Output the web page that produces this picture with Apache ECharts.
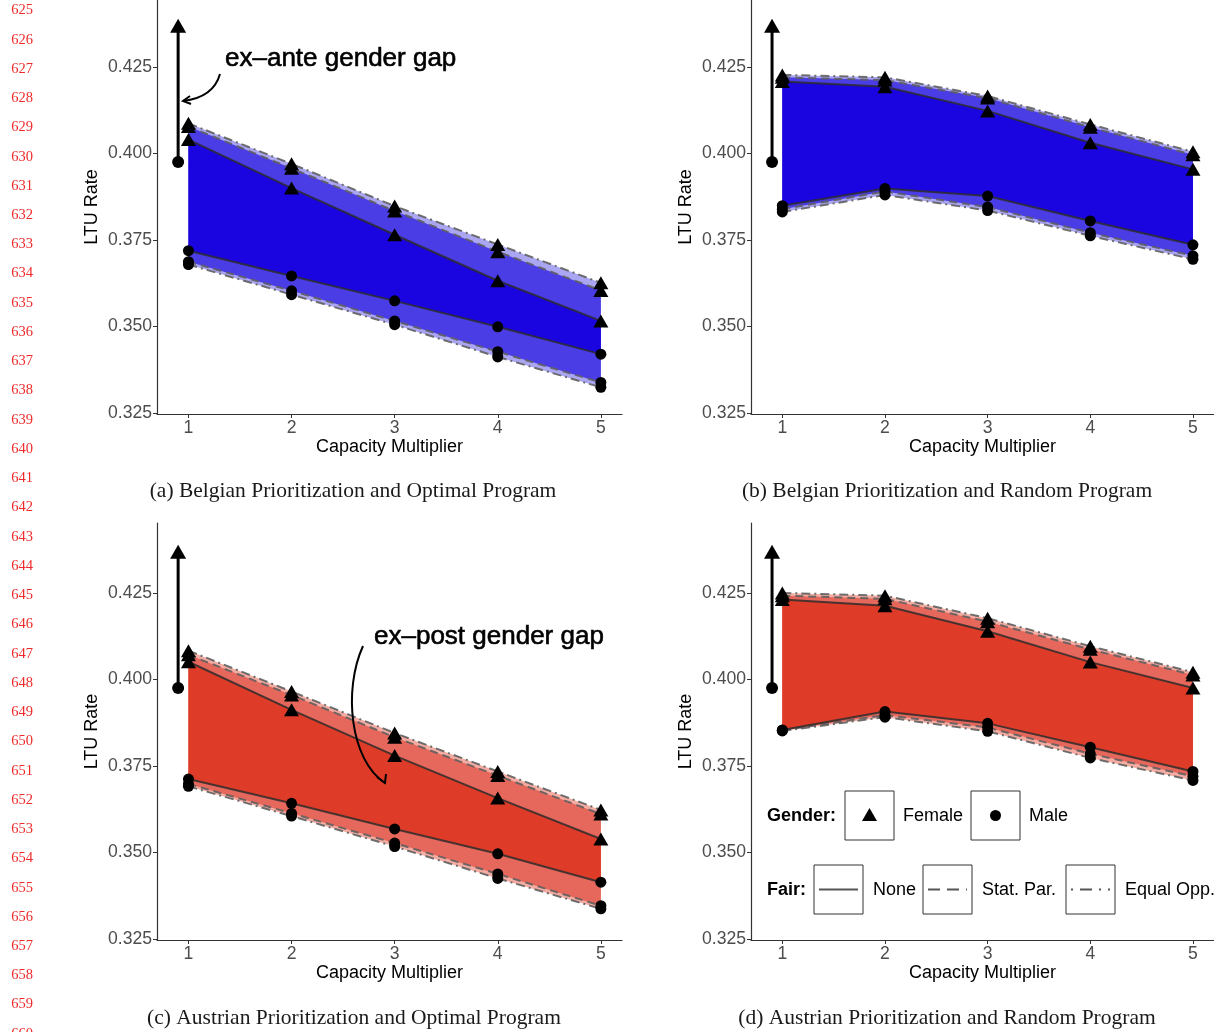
<!DOCTYPE html>
<html><head><meta charset="utf-8">
<script src="https://cdn.jsdelivr.net/npm/echarts@6/dist/echarts.min.js"></script>
<style>html,body{margin:0;padding:0;background:#fff}#c{width:1214px;height:1032px}</style>
</head><body><div id="c"></div>
<script>
// ---------- data ----------
const capacity = [1, 2, 3, 4, 5];
const xTicks = [1, 2, 3, 4, 5];
const yTicks = [0.325, 0.350, 0.375, 0.400, 0.425];

// baseline (ex-ante) LTU rates, drawn at x = 0.9
const baseX = 0.9;
const baseFemale = 0.4369;
const baseMale = 0.3975;

// (a) Belgian prioritization, optimal program
const femNoneA = [0.4040, 0.3900, 0.3765, 0.3632, 0.3516];
const femSPA   = [0.4078, 0.3957, 0.3834, 0.3716, 0.3604];
const femEOA   = [0.4087, 0.3970, 0.3848, 0.3737, 0.3626];
const maleNoneA = [0.3719, 0.3646, 0.3574, 0.3499, 0.3420];
const maleSPA   = [0.3687, 0.3603, 0.3516, 0.3427, 0.3338];
const maleEOA   = [0.3679, 0.3592, 0.3505, 0.3412, 0.3324];

// (b) Belgian prioritization, random program
const femNoneB = [0.4208, 0.4193, 0.4123, 0.4031, 0.3954];
const femSPB   = [0.4220, 0.4212, 0.4160, 0.4076, 0.3996];
const femEOB   = [0.4227, 0.4220, 0.4166, 0.4084, 0.4005];
const maleNoneB = [0.3849, 0.3899, 0.3877, 0.3805, 0.3736];
const maleSPB   = [0.3839, 0.3890, 0.3845, 0.3771, 0.3704];
const maleEOB   = [0.3831, 0.3880, 0.3835, 0.3762, 0.3694];

// (c) Austrian prioritization, optimal program
const femNoneC = [0.4051, 0.3912, 0.3780, 0.3657, 0.3539];
const femSPC   = [0.4071, 0.3955, 0.3833, 0.3722, 0.3611];
const femEOC   = [0.4083, 0.3965, 0.3845, 0.3734, 0.3623];
const maleNoneC = [0.3712, 0.3642, 0.3568, 0.3496, 0.3414];
const maleSPC   = [0.3698, 0.3613, 0.3527, 0.3438, 0.3346];
const maleEOC   = [0.3691, 0.3605, 0.3517, 0.3425, 0.3337];

// (d) Austrian prioritization, random program
const femNoneD = [0.4231, 0.4213, 0.4139, 0.4050, 0.3975];
const femSPD   = [0.4242, 0.4233, 0.4167, 0.4087, 0.4013];
const femEOD   = [0.4250, 0.4242, 0.4177, 0.4096, 0.4021];
const maleNoneD = [0.3854, 0.3907, 0.3873, 0.3804, 0.3734];
const maleSPD   = [0.3853, 0.3897, 0.3861, 0.3785, 0.3720];
const maleEOD   = [0.3851, 0.3891, 0.3850, 0.3773, 0.3708];

const captions = [
  '(a) Belgian Prioritization and Optimal Program',
  '(b) Belgian Prioritization and Random Program',
  '(c) Austrian Prioritization and Optimal Program',
  '(d) Austrian Prioritization and Random Program'
];

// ---------- styling / layout ----------
const SANS = 'Liberation Sans, Arial, sans-serif';
const SERIF = 'Liberation Serif, DejaVu Serif, serif';
const blue = {light: '#aba6f2', mid: '#4b3de5', dark: '#1a05e0'};
const red  = {light: '#f4aca3', mid: '#e6675b', dark: '#de3c28'};

const panels = [
  {grid: {left: 157, top: 0, width: 465, height: 414}, ymax: 0.44435, f: [femNoneA, femSPA, femEOA], m: [maleNoneA, maleSPA, maleEOA], pal: blue},
  {grid: {left: 751, top: 0, width: 464, height: 414}, ymax: 0.44435, f: [femNoneB, femSPB, femEOB], m: [maleNoneB, maleSPB, maleEOB], pal: blue},
  {grid: {left: 157, top: 523, width: 465, height: 417}, ymax: 0.4452, f: [femNoneC, femSPC, femEOC], m: [maleNoneC, maleSPC, maleEOC], pal: red},
  {grid: {left: 751, top: 523, width: 464, height: 417}, ymax: 0.4452, f: [femNoneD, femSPD, femEOD], m: [maleNoneD, maleSPD, maleEOD], pal: red}
];
const YMIN = 0.3247, XMIN = 0.695, XMAX = 5.205;

const lineStyles = [
  {color: 'rgba(45,45,45,0.85)', width: 2, type: 'solid'},
  {color: 'rgba(95,95,95,0.9)', width: 2, type: [8, 5]},
  {color: 'rgba(95,95,95,0.9)', width: 2, type: [9, 4, 2, 4]}
];

function pts(vals) { return capacity.map((x, i) => [x, vals[i]]); }

function band(idx, upper, lower, color, z) {
  return {
    type: 'custom', xAxisIndex: idx, yAxisIndex: idx, z: z, silent: true, animation: false,
    data: [[capacity[0], upper[0]]],
    renderItem: function (params, api) {
      const p = [];
      capacity.forEach((x, i) => p.push(api.coord([x, upper[i]])));
      for (let i = capacity.length - 1; i >= 0; i--) p.push(api.coord([capacity[i], lower[i]]));
      return {type: 'polygon', shape: {points: p}, style: {fill: color}};
    }
  };
}
function line(idx, vals, symbol, size, ls, z) {
  return {
    type: 'line', xAxisIndex: idx, yAxisIndex: idx, data: pts(vals), symbol: symbol, symbolSize: size,
    showSymbol: true, showAllSymbol: true, itemStyle: {color: '#000'}, lineStyle: ls, z: z,
    animation: false, silent: true
  };
}

const grids = [], xAxes = [], yAxes = [], series = [];
panels.forEach((p, idx) => {
  grids.push(Object.assign({containLabel: false}, p.grid));
  xAxes.push({
    type: 'value', gridIndex: idx, min: XMIN, max: XMAX,
    axisLine: {show: true, onZero: false, lineStyle: {color: '#333', width: 1.2}},
    axisTick: {show: true, length: 4, customValues: xTicks, lineStyle: {color: '#333'}},
    axisLabel: {customValues: xTicks, color: '#4d4d4d', fontSize: 17.6, margin: 5, fontFamily: SANS},
    splitLine: {show: false},
    name: 'Capacity Multiplier', nameLocation: 'middle', nameGap: 22,
    nameTextStyle: {color: '#000', fontSize: 18, fontFamily: SANS}
  });
  yAxes.push({
    type: 'value', gridIndex: idx, min: YMIN, max: p.ymax,
    axisLine: {show: true, onZero: false, lineStyle: {color: '#333', width: 1.2}},
    axisTick: {show: true, length: 4, customValues: yTicks, lineStyle: {color: '#333'}},
    axisLabel: {customValues: yTicks, color: '#4d4d4d', fontSize: 17.6, margin: 5, fontFamily: SANS,
      padding: [3, 0, 0, 0], formatter: v => v.toFixed(3)},
    splitLine: {show: false},
    name: 'LTU Rate', nameLocation: 'middle', nameGap: 56,
    nameTextStyle: {color: '#000', fontSize: 18, fontFamily: SANS}
  });
  // ribbons, outermost first
  series.push(band(idx, p.f[2], p.m[2], p.pal.light, 1));
  series.push(band(idx, p.f[1], p.m[1], p.pal.mid, 1));
  series.push(band(idx, p.f[0], p.m[0], p.pal.dark, 1));
  // lines + markers
  for (let k = 2; k >= 0; k--) {
    series.push(line(idx, p.m[k], 'circle', 11, lineStyles[k], 3));
    series.push(line(idx, p.f[k], 'triangle', [15, 13], lineStyles[k], 3));
  }
  // ex-ante gap
  series.push({
    type: 'line', xAxisIndex: idx, yAxisIndex: idx, z: 4, animation: false, silent: true,
    lineStyle: {color: '#000', width: 3}, itemStyle: {color: '#000'},
    data: [
      {value: [baseX, baseMale], symbol: 'circle', symbolSize: 12},
      {value: [baseX, baseFemale], symbol: 'triangle', symbolSize: [16, 14]}
    ]
  });
});

// ---------- graphic elements: captions, annotations, legend, line numbers ----------
const graphic = [];
const capPos = [[353, 491], [947, 491], [354, 1018], [947, 1018]];
captions.forEach((t, i) => graphic.push({
  type: 'text', x: capPos[i][0], y: capPos[i][1], z: 10,
  style: {text: t, font: '21.5px ' + SERIF, fill: '#1a1a1a', align: 'center', verticalAlign: 'middle'}
}));
for (let n = 625; n <= 660; n++) {
  graphic.push({type: 'text', x: 22, y: 10.5 + (n - 625) * 29.24, z: 10,
    style: {text: String(n), font: '14.5px ' + SERIF, fill: '#ee2a2a', align: 'center', verticalAlign: 'middle'}});
}
// annotations
graphic.push({type: 'text', x: 225, y: 59, z: 10,
  style: {text: 'ex\u2013ante gender gap', font: '26px ' + SANS, fill: '#000', stroke: '#000', lineWidth: 0.6, verticalAlign: 'middle'}});
graphic.push({type: 'bezierCurve', z: 10,
  shape: {x1: 220, y1: 74, cpx1: 215, cpy1: 92, cpx2: 200, cpy2: 99, x2: 183, y2: 101},
  style: {stroke: '#000', lineWidth: 2, fill: null}});
graphic.push({type: 'polyline', z: 10, shape: {points: [[190, 96], [183, 101], [191, 104]]},
  style: {stroke: '#000', lineWidth: 2, fill: null}});
graphic.push({type: 'text', x: 374, y: 637, z: 10,
  style: {text: 'ex\u2013post gender gap', font: '26px ' + SANS, fill: '#000', stroke: '#000', lineWidth: 0.6, verticalAlign: 'middle'}});
graphic.push({type: 'bezierCurve', z: 10,
  shape: {x1: 363, y1: 646, cpx1: 343, cpy1: 690, cpx2: 350, cpy2: 760, x2: 385, y2: 783},
  style: {stroke: '#000', lineWidth: 2, fill: null}});
graphic.push({type: 'polyline', z: 10, shape: {points: [[377, 777], [385, 783], [386, 774]]},
  style: {stroke: '#000', lineWidth: 2, fill: null}});
// legend
function box(x, y) {
  return {type: 'rect', z: 10, shape: {x: x, y: y, width: 49, height: 49},
    style: {fill: '#fff', stroke: '#333', lineWidth: 1}};
}
function ltext(t, x, y, bold) {
  return {type: 'text', x: x, y: y, z: 11,
    style: {text: t, font: (bold ? 'bold ' : '') + '18px ' + SANS, fill: '#000', verticalAlign: 'middle'}};
}
graphic.push(ltext('Gender:', 767, 816, true));
graphic.push(box(845, 791));
graphic.push({type: 'polygon', z: 11, shape: {points: [[869.5, 808], [862, 821], [877, 821]]}, style: {fill: '#000'}});
graphic.push(ltext('Female', 903, 816));
graphic.push(box(971, 791));
graphic.push({type: 'circle', z: 11, shape: {cx: 995.5, cy: 815.5, r: 5.5}, style: {fill: '#000'}});
graphic.push(ltext('Male', 1029, 816));
graphic.push(ltext('Fair:', 767, 890, true));
graphic.push(box(814, 865));
graphic.push({type: 'line', z: 11, shape: {x1: 819, y1: 889.5, x2: 858, y2: 889.5}, style: {stroke: '#555', lineWidth: 2}});
graphic.push(ltext('None', 873, 890));
graphic.push(box(923, 865));
graphic.push({type: 'line', z: 11, shape: {x1: 928, y1: 889.5, x2: 967, y2: 889.5}, style: {stroke: '#555', lineWidth: 2, lineDash: [12, 7]}});
graphic.push(ltext('Stat. Par.', 982, 890));
graphic.push(box(1066, 865));
graphic.push({type: 'line', z: 11, shape: {x1: 1071, y1: 889.5, x2: 1110, y2: 889.5}, style: {stroke: '#555', lineWidth: 2, lineDash: [2, 7, 12, 7]}});
graphic.push(ltext('Equal Opp.', 1125, 890));

const chart = echarts.init(document.getElementById('c'), null, {renderer: 'canvas'});
chart.setOption({
  backgroundColor: '#fff', animation: false,
  grid: grids, xAxis: xAxes, yAxis: yAxes, series: series, graphic: graphic
});
</script></body></html>
